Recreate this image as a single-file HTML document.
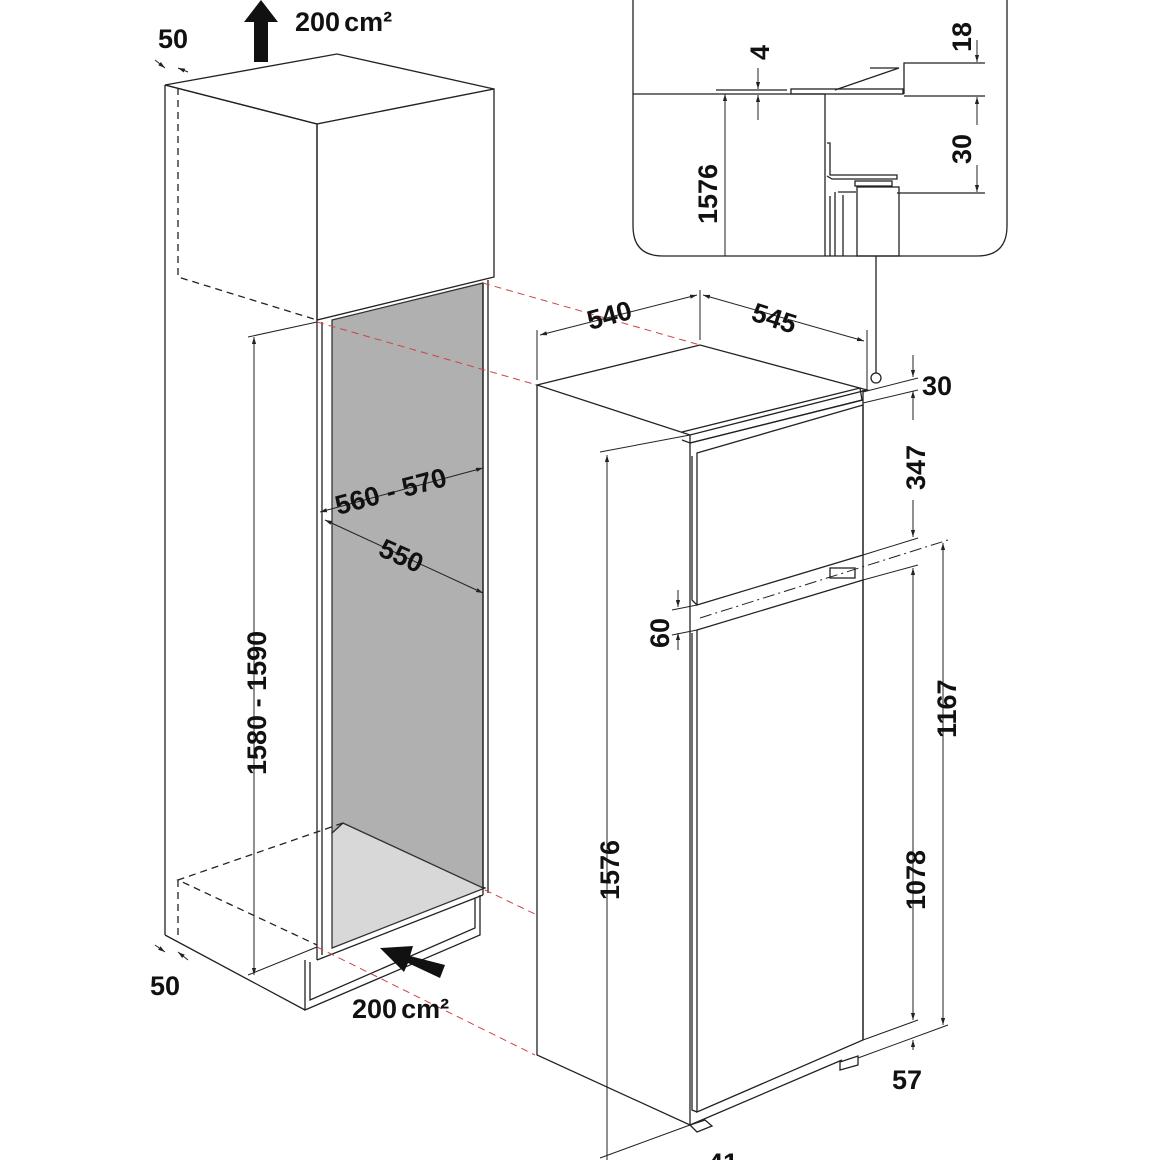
<!DOCTYPE html>
<html><head><meta charset="utf-8"><style>
html,body{margin:0;padding:0;background:#fff}
svg{display:block}
text{font-family:"Liberation Sans",sans-serif;font-weight:bold;fill:#111}
</style></head><body>
<svg width="1160" height="1160" viewBox="0 0 1160 1160" xmlns="http://www.w3.org/2000/svg">
<defs>
<marker id="a" viewBox="0 0 10 10" refX="10" refY="5" markerWidth="7" markerHeight="7" orient="auto-start-reverse"><path d="M0,2 L10,5 L0,8 z" fill="#222"/></marker>
</defs>
<g fill="none" stroke="#222" stroke-width="1.3">
<polygon points="343,823 485,888 332,948 332,833" fill="#d8d8d8" stroke="#333"/>
<polygon points="332,320 483,283 483,888 343,823 332,833" fill="#b0b0b0" stroke="#333"/>
<line x1="165" y1="85" x2="165" y2="935"/>
<polygon points="165,85 337,54 494,89 317,124" fill="#fff"/>
<polygon points="317,124 494,89 494,277 317,320" fill="#fff"/>
<line x1="165" y1="85" x2="317" y2="124"/>
<line x1="317" y1="124" x2="317" y2="960"/>
<line x1="322" y1="322" x2="322" y2="955"/>
<line x1="483" y1="283" x2="483" y2="895"/>
<line x1="488" y1="280" x2="488" y2="893"/>
<line x1="165" y1="935" x2="305" y2="1010"/>
<polyline points="305,960 305,1010 480,935 480,895"/>
<polyline points="310,962 310,1000 475,928 475,898"/>
<line x1="317" y1="960" x2="483" y2="895"/>
<g stroke-dasharray="7,5">
<polyline points="178,88 178,277 317,320"/>
<polyline points="343,823 178,880 317,945"/>
<line x1="178" y1="880" x2="178" y2="940"/>
</g>
<g stroke="#c44" stroke-width="1" stroke-dasharray="7,5">
<line x1="483" y1="283" x2="700" y2="345"/>
<line x1="317" y1="322" x2="537" y2="385"/>
<line x1="485" y1="890" x2="537" y2="915"/>
<line x1="317" y1="947" x2="535" y2="1055"/>
</g>
<line x1="254" y1="337" x2="254" y2="975" marker-start="url(#a)" marker-end="url(#a)" stroke-width="1"/>
<line x1="248" y1="337" x2="317" y2="322" stroke-width="1"/>
<line x1="248" y1="975" x2="317" y2="947" stroke-width="1"/>
<line x1="320" y1="512" x2="483" y2="468" marker-start="url(#a)" marker-end="url(#a)" stroke-width="1"/>
<line x1="325" y1="520" x2="483" y2="593" marker-start="url(#a)" marker-end="url(#a)" stroke-width="1"/>
<line x1="155" y1="60" x2="165" y2="68" marker-end="url(#a)" stroke-width="1"/>
<line x1="188" y1="72" x2="178" y2="68" marker-end="url(#a)" stroke-width="1"/>
<line x1="155" y1="945" x2="165" y2="952" marker-end="url(#a)" stroke-width="1"/>
<line x1="188" y1="960" x2="178" y2="952" marker-end="url(#a)" stroke-width="1"/>
<polygon points="537,385 700,345 867,390 690,435" fill="#fff"/>
<polyline points="537,385 537,1055 690,1125 690,435"/>
<line x1="690" y1="1125" x2="842" y2="1060"/>
<polyline points="682,432 860,388 862,400 690,443 682,440 z"/>
<line x1="690" y1="443" x2="863" y2="400"/>
<polygon points="697,453 863,405 863,555 697,605"/>
<polyline points="692,456 692,600 697,605"/>
<polygon points="697,630 863,580 863,1040 697,1112"/>
<polyline points="692,633 692,1110 697,1112"/>
<line x1="863" y1="390" x2="863" y2="1040"/>
<rect x="830" y="568" width="25" height="10"/>
<polygon points="840,1062 858,1056 858,1065 840,1070"/>
<polygon points="690,1125 705,1120 712,1126 697,1132"/>
<line x1="537" y1="330" x2="537" y2="380" stroke-width="1"/>
<line x1="700" y1="290" x2="700" y2="340" stroke-width="1"/>
<line x1="867" y1="330" x2="867" y2="390" stroke-width="1"/>
<line x1="540" y1="335" x2="697" y2="295" marker-start="url(#a)" marker-end="url(#a)" stroke-width="1"/>
<line x1="703" y1="295" x2="864" y2="341" marker-start="url(#a)" marker-end="url(#a)" stroke-width="1"/>
<line x1="600" y1="452" x2="690" y2="435" stroke-width="1"/>
<line x1="607" y1="455" x2="607" y2="1160" marker-start="url(#a)" stroke-width="1"/>
<line x1="600" y1="1158" x2="690" y2="1125" stroke-width="1"/>
<line x1="863" y1="392" x2="918" y2="378" stroke-width="1"/>
<line x1="863" y1="403" x2="918" y2="390" stroke-width="1"/>
<line x1="913" y1="355" x2="913" y2="377" marker-end="url(#a)" stroke-width="1"/>
<line x1="913" y1="420" x2="913" y2="391" marker-end="url(#a)" stroke-width="1"/>
<line x1="913" y1="500" x2="913" y2="537" marker-end="url(#a)" stroke-width="1"/>
<line x1="863" y1="555" x2="918" y2="538" stroke-width="1"/>
<line x1="700" y1="618" x2="948" y2="540" stroke-dasharray="12,4,2,4" stroke-width="1"/>
<line x1="863" y1="580" x2="918" y2="565" stroke-width="1"/>
<line x1="913" y1="568" x2="913" y2="1020" marker-start="url(#a)" marker-end="url(#a)" stroke-width="1"/>
<line x1="943" y1="543" x2="943" y2="1025" marker-start="url(#a)" marker-end="url(#a)" stroke-width="1"/>
<line x1="863" y1="1040" x2="918" y2="1020" stroke-width="1"/>
<line x1="858" y1="1058" x2="948" y2="1025" stroke-width="1"/>
<line x1="913" y1="1050" x2="913" y2="1040" marker-end="url(#a)" stroke-width="1"/>
<line x1="678" y1="590" x2="678" y2="607" marker-end="url(#a)" stroke-width="1"/>
<line x1="678" y1="650" x2="678" y2="633" marker-end="url(#a)" stroke-width="1"/>
<line x1="672" y1="610" x2="697" y2="605" stroke-width="1"/>
<line x1="672" y1="635" x2="697" y2="630" stroke-width="1"/>
<path d="M633,-5 L1007,-5 L1007,226 Q1007,256 977,256 L663,256 Q633,256 633,226 Z"/>
<line x1="633" y1="94" x2="825" y2="94"/>
<line x1="716" y1="90" x2="787" y2="90"/>
<rect x="791" y="89" width="112" height="5"/>
<polyline points="835,90 899,68 898,68"/>
<line x1="870" y1="68" x2="898" y2="68"/>
<polyline points="904,94 904,63 985,63"/>
<line x1="904" y1="96" x2="985" y2="96"/>
<line x1="897" y1="193" x2="985" y2="193"/>
<line x1="725" y1="94" x2="725" y2="256" marker-start="url(#a)" stroke-width="1"/>
<line x1="825" y1="94" x2="825" y2="256"/>
<polyline points="827,143 830,143 830,175 897,175 897,179 832,179 827,176"/>
<rect x="855" y="181" width="37" height="5"/>
<rect x="857" y="187" width="42" height="69"/>
<line x1="830" y1="196" x2="830" y2="256"/>
<line x1="835" y1="192" x2="835" y2="256"/>
<line x1="838" y1="192" x2="856" y2="192"/>
<line x1="843" y1="195" x2="843" y2="256"/>
<line x1="758" y1="68" x2="758" y2="89" marker-end="url(#a)" stroke-width="1"/>
<line x1="758" y1="120" x2="758" y2="95" marker-end="url(#a)" stroke-width="1"/>
<line x1="977" y1="40" x2="977" y2="62" marker-end="url(#a)" stroke-width="1"/>
<line x1="977" y1="125" x2="977" y2="97" marker-end="url(#a)" stroke-width="1"/>
<line x1="977" y1="165" x2="977" y2="192" marker-end="url(#a)" stroke-width="1"/>
<line x1="876" y1="256" x2="876" y2="373"/>
<circle cx="876" cy="378" r="5" fill="#fff"/>
</g>
<polygon points="254,62 268,62 268,22 278,22 261,0 244,22 254,22" fill="#111"/>
<polygon points="445,965 440,978 408,963 404,972 380,948 413,946 410,956" fill="#111"/>
<g font-size="27">
<text x="158" y="48">50</text>
<text x="150" y="995">50</text>
<text x="295" y="31">200<tspan dx="4">cm²</tspan></text>
<text x="352" y="1018">200<tspan dx="4">cm²</tspan></text>
<text transform="translate(266,775) rotate(-90)">1580 - 1590</text>
<text transform="translate(338,515) rotate(-15)">560 - 570</text>
<text transform="translate(377,555) rotate(24)">550</text>
<text transform="translate(590,330) rotate(-15)">540</text>
<text transform="translate(750,320) rotate(18)">545</text>
<text x="922" y="395">30</text>
<text transform="translate(925,490) rotate(-90)">347</text>
<text transform="translate(669,648) rotate(-90)">60</text>
<text transform="translate(619,900) rotate(-90)">1576</text>
<text transform="translate(956,738) rotate(-90)">1167</text>
<text transform="translate(925,910) rotate(-90)">1078</text>
<text x="892" y="1089">57</text>
<text x="708" y="1172">41</text>
<text transform="translate(717,224) rotate(-90)">1576</text>
<text transform="translate(769,60) rotate(-90)">4</text>
<text transform="translate(971,52) rotate(-90)">18</text>
<text transform="translate(971,164) rotate(-90)">30</text>
</g>
</svg>
</body></html>
